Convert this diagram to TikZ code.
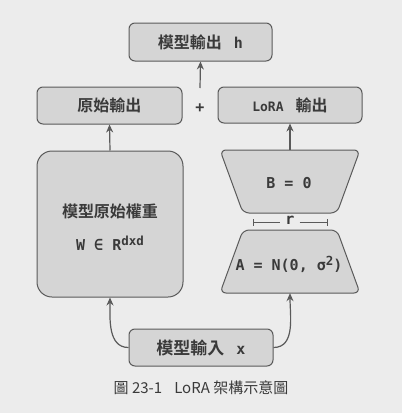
\documentclass[tikz,border=0pt]{standalone}
\usepackage{fontspec}
\usetikzlibrary{arrows.meta}
\newfontfamily\cjkb{Noto Sans CJK TC}[UprightFont={* Bold}]
\newfontfamily\cjk{Noto Sans CJK TC}
\newfontfamily\mono{DejaVu Sans Mono}[UprightFont={* Bold}]
\newcommand\hisup[1]{\raisebox{5pt}{\fontsize{12.5}{15}\selectfont #1}}
\definecolor{bg}{HTML}{ECECEC}
\definecolor{boxfill}{HTML}{D5D5D5}
\definecolor{edge}{HTML}{5A5A5A}
\definecolor{ink}{HTML}{3A3A3A}
\tikzset{
  box/.style={draw=edge, fill=boxfill, line width=1pt, rounded corners=6pt,
    inner sep=0pt, text=ink},
  trap/.style={draw=edge, fill=boxfill, line width=1pt, rounded corners=6pt},
  arr/.style={draw=edge, line width=1.2pt, -{Stealth[length=8pt,width=7pt]}},
  cj/.style={font=\cjkb\fontsize{16}{19}\selectfont},
  mt/.style={text=ink, font=\mono\fontsize{15}{18}\selectfont},
}
\begin{document}
\begin{tikzpicture}[x=1pt,y=-1pt]
\fill[bg] (0,0) rectangle (402,413);
\useasboundingbox (0,0) rectangle (402,413);
% boxes
\node[box, cj, minimum width=143pt, minimum height=38pt] (out) at (200.5,42)
  {模型輸出\hspace{12pt}{\mono\fontsize{15}{18}\selectfont h}};
\node[box, cj, minimum width=145pt, minimum height=37pt] (orig) at (109.5,105.5) {原始輸出};
\node[box, cj, minimum width=144pt, minimum height=36pt] (lora) at (290,105)
  {{\mono\fontsize{13}{16}\selectfont LoRA}\hspace{12pt}輸出};
\node[mt] (plus) at (200,108) {+};
\node[box, rounded corners=15pt, minimum width=146pt, minimum height=146pt] (big) at (110,224) {};
\node[cj, text=ink] (wname) at (110,211) {模型原始權重};
\node[mt] (wexpr) at (110,243) {W ∈ R\hisup{dxd}};
% trapezoids
\node[minimum width=140pt, minimum height=63pt, inner sep=0pt] (B) at (290,181.5) {};
\path[trap] (220,150) -- (360,150) -- (337,213) -- (243,213) -- cycle;
\node[mt] (Btxt) at (289,183) {B = 0};
\node[minimum width=140pt, minimum height=63pt, inner sep=0pt] (A) at (290,261.5) {};
\path[trap] (243,230) -- (337,230) -- (360,293) -- (220,293) -- cycle;
\node[mt] (Atxt) at (289,264) {A = N(0, σ\hisup{2})};
% r marker
\node[mt, inner sep=1pt] (r) at (290,220) {r};
\coordinate (rl) at (253,222);
\coordinate (rr) at (327,222);
\draw[edge, line width=1pt] (rl) -- ([xshift=-4pt]r.west |- rl);
\draw[edge, line width=1pt] ([xshift=4pt]r.east |- rr) -- (rr);
\draw[edge, line width=1pt] ([yshift=-3.5pt]rl) -- ([yshift=3.5pt]rl);
\draw[edge, line width=1pt] ([yshift=-3.5pt]rr) -- ([yshift=3.5pt]rr);
% input
\node[box, font=\cjkb\fontsize{17}{20}\selectfont, minimum width=144pt, minimum height=37pt] (in) at (201,347.5)
  {模型輸入\hspace{12pt}{\mono\fontsize{15}{18}\selectfont x}};
% arrows
\coordinate (upstart) at (200,88);
\draw[arr] (upstart) -- (out.south);
\draw[arr] (big.north) -- (orig.south);
\draw[arr] (B.north) -- (lora.south);
\draw[arr] (in.west) to[out=180, in=-90] (big.south);
\draw[arr] (in.east) to[out=0, in=-90] (A.south);
% caption
\node[text=ink, font=\cjk\fontsize{15}{18}\selectfont] (cap) at (201,388) {圖 23-1\hspace{12pt}LoRA 架構示意圖};
\end{tikzpicture}
\end{document}
